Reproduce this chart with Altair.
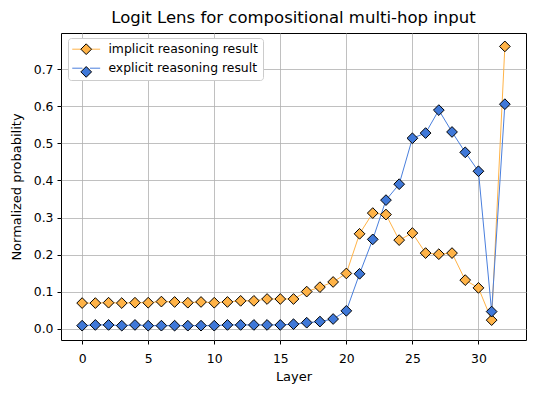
import altair as alt
import pandas as pd

layers = list(range(33))
implicit_vals = [0.069, 0.069, 0.070, 0.069, 0.070, 0.070, 0.073, 0.072, 0.070, 0.072,
                 0.070, 0.072, 0.075, 0.075, 0.080, 0.080, 0.080, 0.100, 0.112, 0.126,
                 0.149, 0.256, 0.312, 0.308, 0.239, 0.258, 0.204, 0.201, 0.204, 0.131,
                 0.110, 0.023, 0.762]
explicit_vals = [0.008, 0.010, 0.010, 0.008, 0.010, 0.008, 0.008, 0.008, 0.008, 0.008,
                 0.008, 0.010, 0.010, 0.010, 0.010, 0.010, 0.012, 0.016, 0.019, 0.026,
                 0.048, 0.148, 0.241, 0.347, 0.390, 0.514, 0.528, 0.590, 0.531, 0.476,
                 0.425, 0.046, 0.606]
series_names = ["implicit reasoning result", "explicit reasoning result"]
fill_colors = ["#FFB347", "#3F78D8"]
line_colors = ["#FFB347", "#4A7FDD"]

rows = []
for name, vals in zip(series_names, [implicit_vals, explicit_vals]):
    for l, v in zip(layers, vals):
        rows.append({"Layer": l, "prob": v, "s_line": name, "s_pt": name})
df = pd.DataFrame(rows)

FONT = "DejaVu Sans"
SYM = 115
leg_common = dict(
    title=None, orient="none", legendX=7, legendY=5,
    symbolSize=SYM, symbolStrokeWidth=1, symbolOffset=7, labelOffset=16,
    labelFontSize=12.4, labelFont=FONT, labelColor="black", padding=5,
)

x = alt.X("Layer:Q", title="Layer",
          scale=alt.Scale(domain=[-1.6, 33.6], nice=False, zero=False),
          axis=alt.Axis(values=[0, 5, 10, 15, 20, 25, 30], format="d"))
y = alt.Y("prob:Q", title="Normalized probability",
          scale=alt.Scale(domain=[-0.0307, 0.7982], nice=False, zero=False),
          axis=alt.Axis(values=[0, 0.1, 0.2, 0.3, 0.4, 0.5, 0.6, 0.7], format=".1f"))

lines = alt.Chart(df).mark_line(strokeWidth=1).encode(
    x=x, y=y,
    stroke=alt.Stroke("s_line:N", sort=series_names,
                      scale=alt.Scale(range=line_colors),
                      legend=alt.Legend(
                          symbolType="M-2.6,0H-0.7M0.7,0H2.6", rowPadding=6,
                          fillColor="white", strokeColor="#cccccc", cornerRadius=3,
                          zindex=0, **leg_common)),
    detail="s_line:N",
)

points = alt.Chart(df).mark_point(shape="diamond", filled=True, size=SYM,
                                  stroke="black", strokeWidth=1, opacity=1).encode(
    x=x, y=y,
    fill=alt.Fill("s_pt:N", sort=series_names,
                  scale=alt.Scale(range=fill_colors),
                  legend=alt.Legend(
                      symbolType="diamond", symbolStrokeColor="black", rowPadding=6.7,
                      labelExpr="''",
                      symbolOpacity=1, zindex=1, **leg_common)),
)

chart = alt.layer(lines, points).resolve_scale(fill="independent", stroke="independent").properties(
    width=465, height=307,
    autosize=alt.AutoSizeParams(type="none"),
    padding={"left": 53, "top": 25, "right": 2, "bottom": 45},
    title=alt.Title("Logit Lens for compositional multi-hop input",
                    font=FONT, fontSize=16.5, fontWeight="normal", color="black",
                    anchor="middle", offset=7),
).configure_view(stroke="black", strokeWidth=1).configure_axis(
    domain=False, grid=True, gridColor="#b0b0b0", gridWidth=0.8,
    tickColor="black", tickSize=4, tickWidth=1,
    labelFont=FONT, labelFontSize=12.4, labelColor="black",
    titleFont=FONT, titleFontSize=13, titleFontWeight="normal", titleColor="black",
).configure_axisX(labelPadding=8, titlePadding=6).configure_axisY(labelPadding=4, titlePadding=10)

chart.save("out.html", embed_options={"renderer": "svg", "actions": False})
